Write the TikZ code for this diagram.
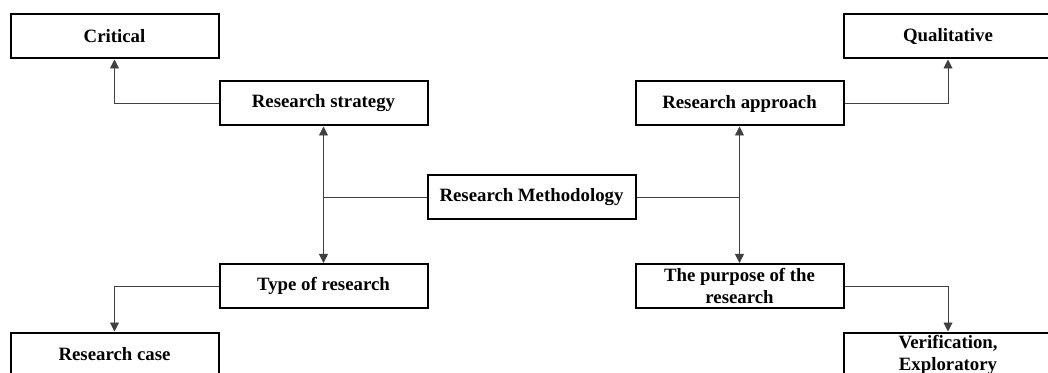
\documentclass[tikz,border=0pt]{standalone}
\usepackage{fontspec}
\setmainfont{Liberation Serif}
\usetikzlibrary{arrows.meta}

\tikzset{
  topic/.style={draw, line width=2pt, fill=white, minimum width=208pt, minimum height=44pt,
    inner sep=0pt, align=center, font=\fontsize{18.8}{22}\selectfont\bfseries},
  link/.style={line width=0.9pt, draw=black!75},
  tip/.style={-{Triangle[length=9pt,width=9pt]}}
}

\begin{document}
\begin{tikzpicture}[x=1pt, y=1pt]
    \useasboundingbox (0, 0) rectangle (1048, 372);
    \clip (0, 0) rectangle (1048, 372);

    \node [topic] (meth) at (531.5, 175) {Research Methodology};

    \node [topic] (strat) at (323.5, 268.5) {Research strategy};
    \node [topic] (crit) at (114.5, 335.5) {Critical};
    \node [topic] (approach) at (739.5, 268.5) {Research approach};
    \node [topic] (qual) at (948, 335.5) {Qualitative};

    \node [topic] (type) at (323.5, 86) {Type of research};
    \node [topic] (rcase) at (114.5, 17.5) {Research case};
    \node [topic] (purpose) at (739.5, 86) {The purpose of the\\research};
    \node [topic] (verif) at (948, 17.5) {Verification,\\Exploratory};

    % middle spine
    \draw [link, {Triangle[length=9pt,width=9pt]}-{Triangle[length=9pt,width=9pt]}] (strat.south) -- (type.north);
    \draw [link, {Triangle[length=9pt,width=9pt]}-{Triangle[length=9pt,width=9pt]}] (approach.south) -- (purpose.north);
    \draw [link] (meth.west) -- (meth.west -| strat.south);
    \draw [link] (meth.east) -- (meth.east -| approach.south);

    % outer branches
    \draw [link, tip] (strat.west) -| (crit.south);
    \draw [link, tip] (type.west) -| (rcase.north);
    \draw [link, tip] (approach.east) -| (qual.south);
    \draw [link, tip] (purpose.east) -| (verif.north);
\end{tikzpicture}
\end{document}
